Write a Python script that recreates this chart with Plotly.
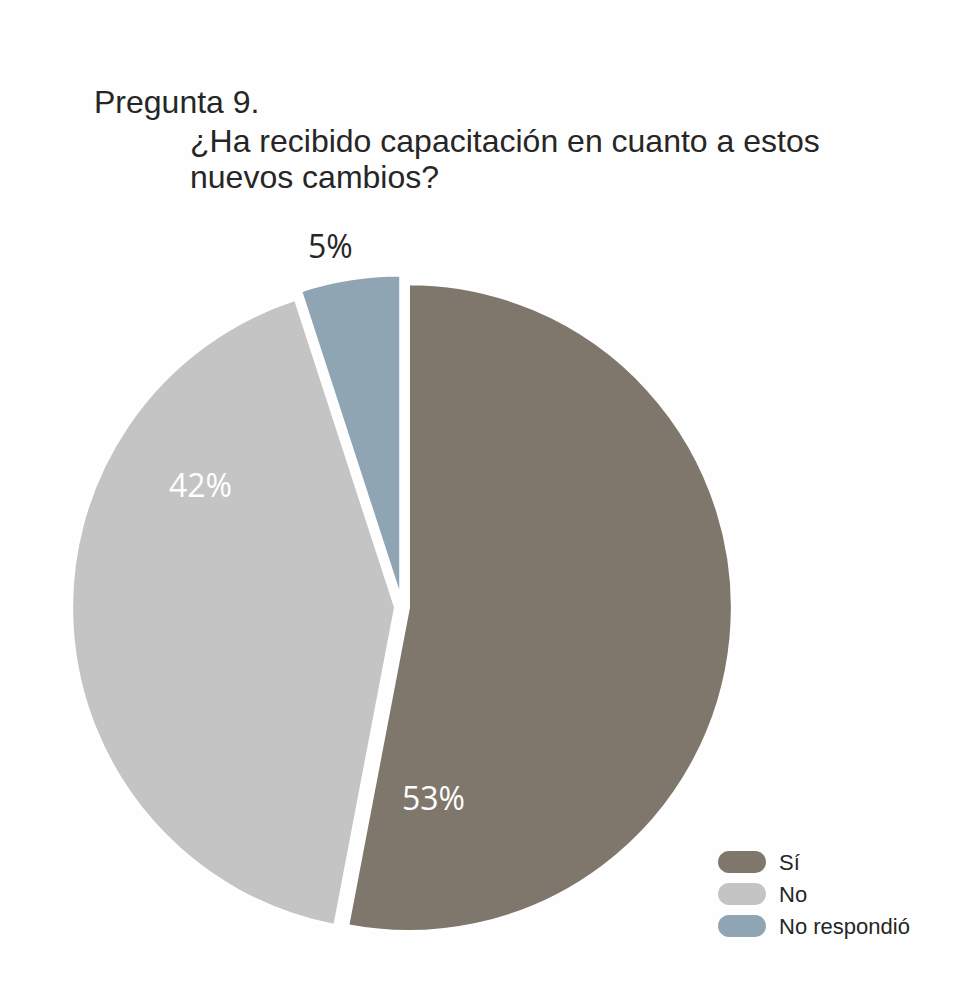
import plotly.graph_objects as go

# Survey answers for question 9
categories = ["Sí", "No", "No respondió"]
values = [53, 42, 5]
colors = ["#7f776c", "#c4c4c4", "#8fa5b3"]

title_line1 = "Pregunta 9."
title_line2 = "¿Ha recibido capacitación en cuanto a estos"
title_line3 = "nuevos cambios?"

W, H = 976, 981


def px(x):
    return x / W


def py(y):
    return 1 - y / H


fig = go.Figure(
    go.Pie(
        labels=categories,
        values=values,
        sort=False,
        direction="clockwise",
        rotation=0,
        pull=[0.02, 0.02, 0.025],
        marker=dict(colors=colors, line=dict(color="white", width=3)),
        textinfo="none",
        hoverinfo="label+percent",
        showlegend=False,
        domain=dict(x=[px(70), px(734)], y=[py(939), py(275)]),
    )
)

annotations = []
# Title lines
for txt, x, y in [(title_line1, 92, 102), (title_line2, 188, 141), (title_line3, 188, 177)]:
    annotations.append(dict(
        text=txt, x=px(x), y=py(y), xref="paper", yref="paper",
        xanchor="left", yanchor="middle", showarrow=False,
        font=dict(family="Liberation Sans, Arial", size=32, color="#262626"),
    ))

# Percentage labels for each slice
label_pos = [(433, 797, "white"), (200, 484, "white"), (330, 246, "#262626")]
for v, (x, y, c) in zip(values, label_pos):
    annotations.append(dict(
        text=f"{v}%", x=px(x), y=py(y), xref="paper", yref="paper",
        xanchor="center", yanchor="middle", showarrow=False,
        font=dict(family="Open Sans, Noto Sans", size=32, color=c),
    ))

# Legend: pill-shaped swatches with labels
shapes = []
legend_rows = [862, 894, 926]
x0, x1 = 718, 766
hh = 11
for cat, col, yc in zip(categories, colors, legend_rows):
    r = hh
    path = (
        f"M {px(x0 + r)} {py(yc - hh)} L {px(x1 - r)} {py(yc - hh)} "
        f"C {px(x1 - r + r * 0.55)} {py(yc - hh)} {px(x1)} {py(yc - r * 0.55)} {px(x1)} {py(yc)} "
        f"C {px(x1)} {py(yc + r * 0.55)} {px(x1 - r + r * 0.55)} {py(yc + hh)} {px(x1 - r)} {py(yc + hh)} "
        f"L {px(x0 + r)} {py(yc + hh)} "
        f"C {px(x0 + r - r * 0.55)} {py(yc + hh)} {px(x0)} {py(yc + r * 0.55)} {px(x0)} {py(yc)} "
        f"C {px(x0)} {py(yc - r * 0.55)} {px(x0 + r - r * 0.55)} {py(yc - hh)} {px(x0 + r)} {py(yc - hh)} Z"
    )
    shapes.append(dict(type="path", path=path, xref="paper", yref="paper",
                       fillcolor=col, line=dict(width=0)))
    annotations.append(dict(
        text=cat, x=px(777), y=py(yc), xref="paper", yref="paper",
        xanchor="left", yanchor="middle", showarrow=False,
        font=dict(family="Liberation Sans Narrow, Liberation Sans, Arial", size=22, color="#262626"),
    ))

fig.update_layout(
    width=W, height=H,
    margin=dict(l=0, r=0, t=0, b=0),
    paper_bgcolor="#fefefe",
    plot_bgcolor="#fefefe",
    annotations=annotations,
    shapes=shapes,
)

fig.write_html("out.html")
